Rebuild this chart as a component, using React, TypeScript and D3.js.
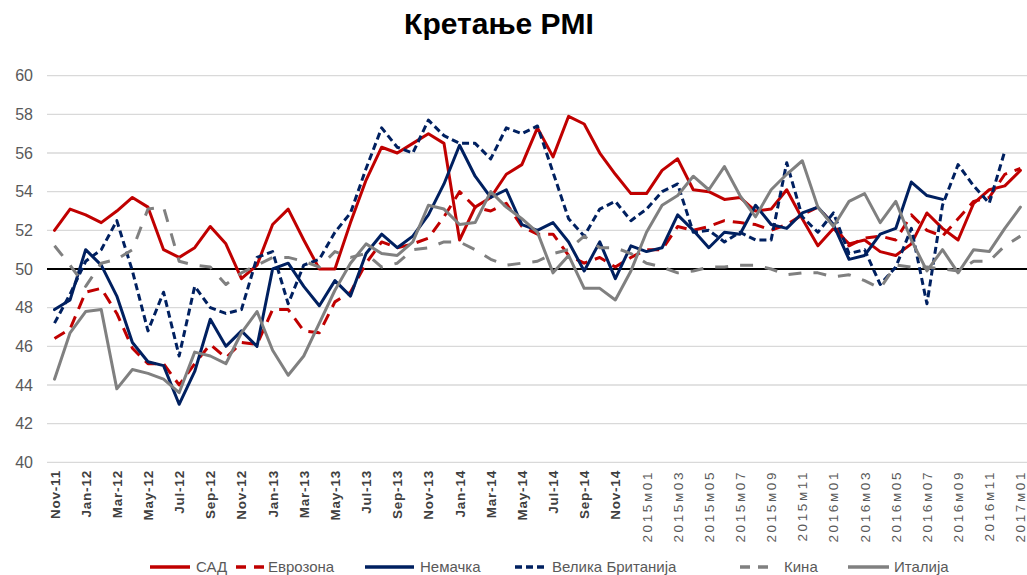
import * as d3 from 'd3'

const months = [
  'Nov-11', 'Dec-11', 'Jan-12', 'Feb-12', 'Mar-12', 'Apr-12', 'May-12', 'Jun-12', 'Jul-12', 'Aug-12',
  'Sep-12', 'Oct-12', 'Nov-12', 'Dec-12', 'Jan-13', 'Feb-13', 'Mar-13', 'Apr-13', 'May-13', 'Jun-13',
  'Jul-13', 'Aug-13', 'Sep-13', 'Oct-13', 'Nov-13', 'Dec-13', 'Jan-14', 'Feb-14', 'Mar-14', 'Apr-14',
  'May-14', 'Jun-14', 'Jul-14', 'Aug-14', 'Sep-14', 'Oct-14', 'Nov-14', 'Dec-14',
  '2015м01', '2015м02', '2015м03', '2015м04', '2015м05', '2015м06', '2015м07', '2015м08', '2015м09',
  '2015м10', '2015м11', '2015м12',
  '2016м01', '2016м02', '2016м03', '2016м04', '2016м05', '2016м06', '2016м07', '2016м08', '2016м09',
  '2016м10', '2016м11', '2016м12',
  '2017м01'
]

const usa = [
  52.0, 53.1, 52.8, 52.4, 53.0, 53.7, 53.2, 51.0, 50.6, 51.1,
  52.2, 51.3, 49.5, 50.2, 52.3, 53.1, 51.5, 50.0, 50.0, 52.4,
  54.6, 56.3, 56.0, 56.5, 57.0, 56.5, 51.5, 53.2, 53.7, 54.9,
  55.4, 57.3, 55.8, 57.9, 57.5, 56.0, 54.9, 53.9, 53.9, 55.1,
  55.7, 54.1, 54.0, 53.6, 53.7, 53.0, 53.1, 54.1, 52.6, 51.2,
  52.1, 51.3, 51.5, 50.9, 50.7, 51.3, 52.9, 52.1, 51.5, 53.4,
  54.1, 54.3, 55.1
]

const eurozone = [
  46.4, 46.9, 48.8, 49.0, 47.7, 45.9, 45.1, 45.1, 44.0, 45.1,
  46.1, 45.4, 46.2, 46.1, 47.9, 47.9, 46.8, 46.7, 48.3, 48.8,
  50.3, 51.4, 51.1, 51.3, 51.6, 52.7, 54.0, 53.2, 53.0, 53.4,
  52.2, 51.8, 51.8, 50.7, 50.3, 50.6, 50.1, 50.6, 51.0, 51.0,
  52.2, 52.0, 52.2, 52.5, 52.4, 52.3, 52.0, 52.3, 52.8, 53.2,
  52.3, 51.2, 51.6, 51.7, 51.5, 52.8, 52.0, 51.7, 52.6, 53.5,
  53.7, 54.9, 55.2
]

const germany = [
  47.9, 48.4, 51.0, 50.2, 48.6, 46.2, 45.2, 45.0, 43.0, 44.7,
  47.4, 46.0, 46.8, 46.0, 50.0, 50.3, 49.1, 48.1, 49.4, 48.6,
  50.8, 51.8, 51.1, 51.7, 52.8, 54.4, 56.4, 54.8, 53.7, 54.1,
  52.3, 52.0, 52.4, 51.4, 49.9, 51.4, 49.5, 51.2, 50.9, 51.1,
  52.8, 52.0, 51.1, 51.9, 51.8, 53.3, 52.3, 52.1, 52.9, 53.2,
  52.3, 50.5, 50.7, 51.8, 52.1, 54.5, 53.8, 53.6, null, null,
  null, null, null
]

const uk = [
  47.2, 48.7, 50.4, 51.0, 52.5, 49.9, 46.8, 48.8, 45.5, 49.1,
  48.0, 47.7, 47.9, 50.6, 50.9, 48.2, 50.2, 50.5, 51.9, 52.9,
  55.2, 57.3, 56.3, 56.0, 57.7, 56.9, 56.5, 56.5, 55.7, 57.3,
  57.0, 57.4, 55.0, 52.6, 51.7, 53.1, 53.5, 52.5, 53.1, 54.0,
  54.4, 51.9, 52.0, 51.4, 51.9, 51.5, 51.5, 55.5, 52.7, 51.9,
  52.9, 50.8, 51.0, 49.2, 50.1, 52.1, 48.2, 53.3, 55.4, 54.3,
  53.4, 56.1, null
]

const china = [
  51.2, 50.2, 49.1, 50.3, 50.5, 51.0, 53.1, 53.2, 50.4, 50.2,
  50.1, 49.2, 49.8, 50.2, 50.6, 50.6, 50.4, 50.1, 50.9, 50.6,
  50.8, 50.1, 50.3, 51.0, 51.1, 51.4, 51.4, 51.0, 50.5, 50.2,
  50.3, 50.4, 50.8, 51.0, 51.7, 51.1, 51.1, 50.8, 50.3, 50.1,
  49.8, 49.9, 50.1, 50.1, 50.2, 50.2, 50.0, 49.7, 49.8, 49.8,
  49.6, 49.7, 49.4, 49.0, 50.2, 50.1, 50.1, 50.0, 49.9, 50.4,
  50.4, 51.2, 51.7
]

const italy = [
  44.3, 46.7, 47.8, 47.9, 43.8, 44.8, 44.6, 44.3, 43.6, 45.7,
  45.5, 45.1, 46.7, 47.8, 45.8, 44.5, 45.5, 47.2, 48.9, 50.3,
  51.3, 50.8, 50.7, 51.4, 53.3, 53.1, 52.3, 52.4, 54.0, 53.2,
  52.6, 51.9, 49.8, 50.7, 49.0, 49.0, 48.4, 49.9, 51.9, 53.3,
  53.8, 54.8, 54.1, 55.3, 53.8, 52.7, 54.1, 54.9, 55.6, 53.2,
  52.2, 53.5, 53.9, 52.4, 53.5, 51.5, 49.9, 51.0, 49.8, 51.0,
  50.9, 52.1, 53.2
]

const seriesNames = ['САД', 'Еврозона', 'Немачка', 'Велика Британија', 'Кина', 'Италија']
const seriesValues = [usa, eurozone, germany, uk, china, italy]
const seriesColors = ['#c00000', '#c00000', '#002060', '#002060', '#808080', '#808080']
const seriesDash = ['', '12 8', '', '7 4', '13 12', '']
const legendDash = ['', '10 8', '', '7 4', '10 8', '']

// legend sample / text positions
const legendSampleX = [150, 236, 365, 515, 740, 848]
const legendSampleEnd = [190, 264, 414, 548, 768, 889]
const legendTextX = [196, 268, 420, 552, 784, 894]

const yTicks = [40, 42, 44, 46, 48, 50, 52, 54, 56, 58, 60]

export default function App() {
  const width = 1027
  const height = 575

  const x = d3.scalePoint<number>()
    .domain(d3.range(months.length))
    .range([54.5, 1020.4])

  const y = d3.scaleLinear()
    .domain([40, 60])
    .range([462.3, 75.7])

  const line = d3.line<number | null>()
    .defined(d => d != null)
    .x((d, i) => x(i) as number)
    .y(d => y(d as number))

  const axisFont = '"Liberation Sans", Arial, sans-serif'

  return (
    <svg width={width} height={height}
      style={{ position: 'absolute', left: 0, top: 0, background: '#fff' }}>
      <text x={499} y={34} textAnchor="middle" fontFamily={axisFont}
        fontWeight="bold" fontSize={30} fill="#000">Кретање PMI</text>

      {/* gridlines */}
      {yTicks.map(t => (
        <line key={t} x1={47} x2={1027} y1={y(t)} y2={y(t)}
          stroke="#d9d9d9" strokeWidth={1.3} />
      ))}
      <line x1={47} x2={1027} y1={y(50)} y2={y(50)} stroke="#000" strokeWidth={1.8} />

      {yTicks.map(t => (
        <text key={t} x={33} y={y(t)} dy="0.35em" textAnchor="end"
          fontFamily={axisFont} fontSize={16} fill="#595959">{t}</text>
      ))}

      {months.map((m, i) => i % 2 === 0 && (
        <text key={m} transform={`translate(${(x(i) as number) + 5},470) rotate(-90)`}
          textAnchor="end" fontFamily={axisFont} fontSize={13.5}
          fill={i < 38 ? '#404040' : '#595959'}
          fontWeight={i < 38 ? 'bold' : 'normal'}
          letterSpacing={i < 38 ? 0.8 : 2.6}>{m}</text>
      ))}

      {seriesValues.map((vals, s) => (
        <path key={seriesNames[s]} d={line(vals) ?? ''} fill="none"
          stroke={seriesColors[s]} strokeWidth={3}
          strokeDasharray={seriesDash[s] || undefined}
          strokeLinejoin="round" strokeLinecap={seriesDash[s] ? 'butt' : 'round'} />
      ))}

      {seriesNames.map((n, s) => (
        <g key={n}>
          <line x1={legendSampleX[s]} x2={legendSampleEnd[s]} y1={567} y2={567}
            stroke={seriesColors[s]} strokeWidth={3.5}
            strokeDasharray={legendDash[s] || undefined} />
          <text x={legendTextX[s]} y={567} dy="0.35em" fontFamily={axisFont}
            fontSize={15} fill="#595959">{n}</text>
        </g>
      ))}
    </svg>
  )
}
